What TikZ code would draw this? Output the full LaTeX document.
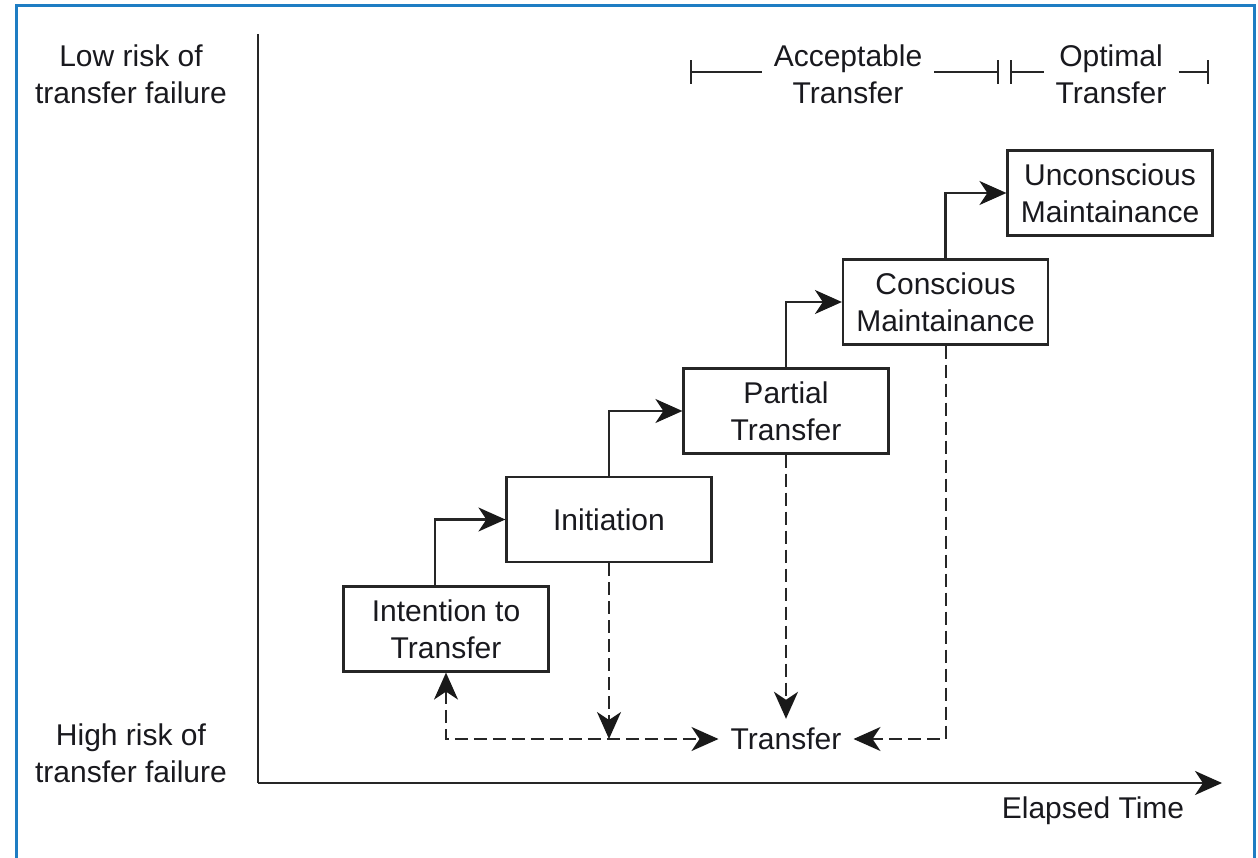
\documentclass[tikz,border=0pt]{standalone}
\usepackage{fontspec}
\setmainfont{Liberation Sans}
\usetikzlibrary{arrows.meta}
\definecolor{frameblue}{RGB}{30,125,195}
\definecolor{ink}{RGB}{38,38,38}
\definecolor{txt}{RGB}{25,25,30}
\begin{document}
\begin{tikzpicture}[x=1pt,y=-1pt,
  font=\fontsize{30}{37}\selectfont,
  head/.style={Stealth[length=27pt,width=24pt,inset=8pt,fill=black!90,color=black!90]},
  tip/.style={-{Stealth[length=27pt,width=24pt,inset=8pt,color=black!90]}},
  tips/.style={{Stealth[length=27pt,width=24pt,inset=8pt,color=black!90]}-{Stealth[length=27pt,width=24pt,inset=8pt,color=black!90]}},
  stagebox/.style={draw=ink,line width=2.2pt,minimum width=205pt,minimum height=85pt,
    align=center,text=txt,inner sep=0pt},
  label/.style={align=center,text=txt,inner sep=0pt},
  axisline/.style={draw=ink,line width=2.5pt},
  flow/.style={draw=ink,line width=2.2pt,tip},
  dflow/.style={draw=ink,line width=2pt,dash pattern=on 13pt off 6pt},
  bracket/.style={draw=ink,line width=2.2pt}]
\useasboundingbox (0,0) rectangle (1258,858);
% frame
\draw[frameblue,line width=3pt] (16.5,880) -- (16.5,5.5) -- (1254.5,5.5) -- (1254.5,880);

% axes
\coordinate (origin) at (258,783);
\coordinate (ytop) at (258,34);
\coordinate (xend) at (1222,783);
\draw[axisline] (ytop) -- (origin);
\draw[axisline,tip] (origin) -- (xend);

% axis labels
\node[label] (low) at (131,74) {Low risk of\\transfer failure};
\node[label] (high) at (131,753) {High risk of\\transfer failure};
\node[label] (elapsed) at (1093,811) {Elapsed Time};

% stages
\node[stagebox] (intention) at (446,629) {Intention to\\Transfer};
\node[stagebox] (initiation) at (609,519.5) {Initiation};
\node[stagebox] (partial) at (786,411) {Partial\\Transfer};
\node[stagebox] (conscious) at (945.5,302) {Conscious\\Maintainance};
\node[stagebox] (unconscious) at (1110,193) {Unconscious\\Maintainance};
\node[label,inner xsep=12pt,inner ysep=9pt] (transfer) at (786,739) {Transfer};

% progression
\draw[flow] ([xshift=-11pt]intention.north) |- (initiation.west);
\draw[flow] (initiation.north) |- (partial.west);
\draw[flow] (partial.north) |- (conscious.west);
\draw[flow] (conscious.north) |- (unconscious.west);

% transfer paths
\draw[dflow,tips] (intention.south) |- (transfer.west);
\draw[dflow,tip] (initiation.south) -- (initiation.south |- transfer.west);
\draw[dflow,tip] (partial.south) -- (transfer.north);
\draw[dflow,tip] (conscious.south) |- (transfer.east);

% range brackets
\node[label,inner xsep=12pt] (accept) at (848,74) {Acceptable\\Transfer};
\node[label,inner xsep=12pt] (optimal) at (1111,74) {Optimal\\Transfer};
\coordinate (a0) at (691,72);
\coordinate (a1) at (998,72);
\coordinate (o0) at (1011,72);
\coordinate (o1) at (1208,72);
\draw[bracket] (a0) -- (accept.west |- a0);
\draw[bracket] (accept.east |- a1) -- (a1);
\draw[bracket] (o0) -- (optimal.west |- o0);
\draw[bracket] (optimal.east |- o1) -- (o1);
\foreach \c in {a0,a1,o0,o1}
  \draw[bracket] ([yshift=-12pt]\c) -- ([yshift=12pt]\c);
\end{tikzpicture}
\end{document}
